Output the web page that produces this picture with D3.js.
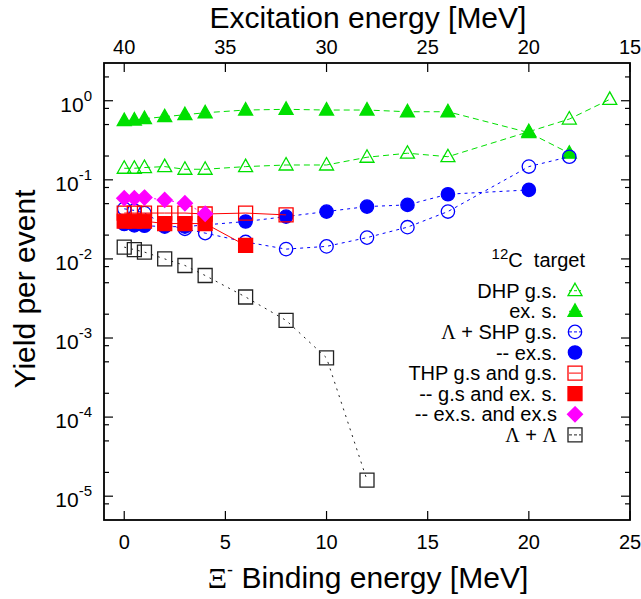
<!DOCTYPE html>
<html>
<head>
<meta charset="utf-8">
<script src="https://cdn.jsdelivr.net/npm/d3@7"></script>
<style>
  body { margin: 0; background: #fff; }
  svg { display: block; font-family: "Liberation Sans", Arial, sans-serif; }
</style>
</head>
<body>
<div id="drawArea"></div>
<script>
// binding energies (MeV) and yields per event
const xDhpGs = [0, 0.5, 1, 2, 3, 4, 6, 8, 10, 12, 14, 16, 20, 22, 24];
const yDhpGs = [0.14, 0.14, 0.143, 0.147, 0.136, 0.136, 0.147, 0.154, 0.154, 0.193, 0.217, 0.196, 0.406, 0.587, 1.04];

const xDhpEx = [0, 0.5, 1, 2, 3, 4, 6, 8, 10, 12, 14, 16, 20, 22];
const yDhpEx = [0.56, 0.57, 0.593, 0.628, 0.666, 0.705, 0.763, 0.779, 0.763, 0.763, 0.726, 0.726, 0.395, 0.217];

const xShpGs = [0, 0.5, 1, 2, 3, 4, 6, 8, 10, 12, 14, 16, 20, 22];
const yShpGs = [0.043, 0.041, 0.038, 0.027, 0.024, 0.0212, 0.0164, 0.0133, 0.0144, 0.0186, 0.0252, 0.0397, 0.147, 0.196];

const xShpEx = [0, 0.5, 1, 2, 3, 6, 8, 10, 12, 14, 16, 20];
const yShpEx = [0.0276, 0.0265, 0.0263, 0.0256, 0.0256, 0.0297, 0.0343, 0.0397, 0.0459, 0.0482, 0.0658, 0.0745];

const xThpGs = [0, 0.5, 1, 2, 3, 4, 6, 8];
const yThpGs = [0.038, 0.038, 0.038, 0.038, 0.038, 0.037, 0.038, 0.036];

const xThpGsEx = [0, 0.5, 1, 2, 3, 4, 6];
const yThpGsEx = [0.030, 0.030, 0.030, 0.028, 0.028, 0.028, 0.0148];

const xThpExEx = [0, 0.5, 1, 2, 3, 4];
const yThpExEx = [0.0586, 0.0586, 0.0597, 0.0557, 0.0505, 0.0372];

const xLL = [0, 0.5, 1, 2, 3, 4, 6, 8, 10, 12];
const yLL = [0.0141, 0.0131, 0.0122, 0.0100, 0.00826, 0.00617, 0.0033, 0.00167, 0.00056, 0.000016];

const bindTicks = [0, 5, 10, 15, 20, 25];
const excTicks = [40, 35, 30, 25, 20, 15];
const decades = [-5, -4, -3, -2, -1, 0];

const series = [
  { name: 'DHP g.s.', xs: xDhpGs, ys: yDhpGs, color: '#00e000', dash: '6,4', shape: 'triangle', filled: false },
  { name: 'ex. s.', xs: xDhpEx, ys: yDhpEx, color: '#00e000', dash: '6,4', shape: 'triangle', filled: true },
  { name: 'Λ + SHP g.s.', xs: xShpGs, ys: yShpGs, color: '#0000ff', dash: '3,4', shape: 'circle', filled: false },
  { name: '-- ex.s.', xs: xShpEx, ys: yShpEx, color: '#0000ff', dash: '3,4', shape: 'circle', filled: true },
  { name: 'THP g.s and g.s.', xs: xThpGs, ys: yThpGs, color: '#ff0000', dash: null, shape: 'square', filled: false },
  { name: '-- g.s and ex. s.', xs: xThpGsEx, ys: yThpGsEx, color: '#ff0000', dash: null, shape: 'square', filled: true },
  { name: '-- ex.s. and ex.s', xs: xThpExEx, ys: yThpExEx, color: '#ff00ff', dash: '2,4', shape: 'diamond', filled: true },
  { name: 'Λ + Λ', xs: xLL, ys: yLL, color: '#222', dash: '2,5', shape: 'square', filled: false },
];

const W = 641, H = 599;
const margin = { top: 63, right: 11, bottom: 79, left: 104 };
const width = W - margin.left - margin.right;
const height = H - margin.top - margin.bottom;

const svg = d3.select('#drawArea').append('svg')
  .attr('width', W)
  .attr('height', H);

const g = svg.append('g')
  .attr('transform', `translate(${margin.left}, ${margin.top})`);

const x = d3.scaleLinear().domain([-1, 25]).range([0, width]);
const xTop = d3.scaleLinear().domain([41, 15]).range([0, width]);
const y = d3.scaleLog().domain([5e-6, 3]).range([height, 0]);

// marker paths, centred on 0,0
function marker(shape) {
  if (shape === 'circle') return d3.symbol(d3.symbolCircle, 140)();
  if (shape === 'triangle') return 'M0,-7.5L7,5L-7,5Z';
  if (shape === 'square') return 'M-7,-7H7V7H-7Z';
  if (shape === 'diamond') return 'M0,-7.5L7.5,0L0,7.5L-7.5,0Z';
}

// ticks: majors at decades, minors at 2,5,8
const minorVals = [];
decades.forEach(d => [2, 5, 8].forEach(m => {
  const v = m * Math.pow(10, d - 1);
  if (v >= 5e-6 && v <= 3) minorVals.push(v);
}));
minorVals.push(2);

const tickG = g.append('g').attr('stroke', '#000').attr('stroke-width', 1.2);
decades.forEach(d => {
  const yy = y(Math.pow(10, d));
  tickG.append('line').attr('x1', 0).attr('x2', 9).attr('y1', yy).attr('y2', yy);
  tickG.append('line').attr('x1', width).attr('x2', width - 9).attr('y1', yy).attr('y2', yy);
});
minorVals.forEach(v => {
  const yy = y(v);
  tickG.append('line').attr('x1', 0).attr('x2', 5).attr('y1', yy).attr('y2', yy);
  tickG.append('line').attr('x1', width).attr('x2', width - 5).attr('y1', yy).attr('y2', yy);
});
bindTicks.forEach(t => {
  tickG.append('line').attr('x1', x(t)).attr('x2', x(t)).attr('y1', height).attr('y2', height - 9);
});
excTicks.forEach(t => {
  tickG.append('line').attr('x1', xTop(t)).attr('x2', xTop(t)).attr('y1', 0).attr('y2', 9);
});

// tick labels
decades.forEach(d => {
  const t = g.append('text')
    .attr('x', -12)
    .attr('y', y(Math.pow(10, d)) + 11)
    .attr('text-anchor', 'end')
    .attr('font-size', 21);
  t.append('tspan').text('10');
  t.append('tspan').attr('dy', -11).attr('font-size', 15).text(d === 0 ? '0' : String(d));
});

g.append('g').selectAll('text').data(bindTicks).join('text')
  .attr('x', d => x(d))
  .attr('y', height + 29)
  .attr('text-anchor', 'middle')
  .attr('font-size', 20)
  .text(d => d);

g.append('g').selectAll('text').data(excTicks).join('text')
  .attr('x', d => xTop(d))
  .attr('y', -9)
  .attr('text-anchor', 'middle')
  .attr('font-size', 20)
  .text(d => d);

// axis titles
svg.append('text')
  .attr('x', 368).attr('y', 28)
  .attr('text-anchor', 'middle')
  .attr('font-size', 30)
  .text('Excitation energy [MeV]');

const bt = svg.append('text')
  .attr('x', 368).attr('y', 588)
  .attr('text-anchor', 'middle')
  .attr('font-size', 30);
bt.append('tspan').attr('font-family', '"Liberation Serif", serif').text('Ξ');
bt.append('tspan').attr('dy', -12).attr('font-size', 18).text('-');
bt.append('tspan').attr('dy', 12).text(' Binding energy [MeV]');

svg.append('text')
  .attr('transform', 'translate(35, 289) rotate(-90)')
  .attr('text-anchor', 'middle')
  .attr('font-size', 30)
  .text('Yield per event');

// data
const line = d3.line().x(d => x(d[0])).y(d => y(d[1]));
series.forEach(s => {
  const pts = s.xs.map((v, i) => [v, s.ys[i]]);
  g.append('path')
    .attr('d', line(pts))
    .attr('fill', 'none')
    .attr('stroke', s.color)
    .attr('stroke-width', 1)
    .attr('stroke-dasharray', s.dash);
  g.append('g').selectAll('path').data(pts).join('path')
    .attr('transform', d => `translate(${x(d[0])}, ${y(d[1])})`)
    .attr('d', marker(s.shape))
    .attr('fill', s.filled ? s.color : 'none')
    .attr('stroke', s.color)
    .attr('stroke-width', 1.3);
});

// legend
const lx = 575, ly0 = 290.7, lstep = 20.6;
const lt = svg.append('text').attr('x', 585).attr('y', 267).attr('text-anchor', 'end').attr('font-size', 20);
lt.append('tspan').attr('font-size', 15).attr('dy', -8).text('12');
lt.append('tspan').attr('dy', 8).text('C\u00a0\u00a0target');

series.forEach((s, i) => {
  const yy = ly0 + i * lstep;
  const t = svg.append('text')
    .attr('x', 557).attr('y', yy + 7)
    .attr('text-anchor', 'end')
    .attr('font-size', 20);
  s.name.split(/(Λ)/).forEach(part => {
    if (!part) return;
    const sp = t.append('tspan').text(part);
    if (part === 'Λ') sp.attr('font-family', '"Liberation Serif", serif');
  });
  svg.append('line')
    .attr('x1', lx - 6).attr('x2', lx + 6).attr('y1', yy).attr('y2', yy)
    .attr('stroke', s.color).attr('stroke-width', 1)
    .attr('stroke-dasharray', s.dash ? '3,2' : null);
  svg.append('path')
    .attr('transform', `translate(${lx}, ${yy})`)
    .attr('d', marker(s.shape))
    .attr('fill', s.filled ? s.color : 'none')
    .attr('stroke', s.color)
    .attr('stroke-width', 1.3);
});

// frame
g.append('rect')
  .attr('width', width).attr('height', height)
  .attr('fill', 'none').attr('stroke', '#000').attr('stroke-width', 1.8);
</script>
</body>
</html>
